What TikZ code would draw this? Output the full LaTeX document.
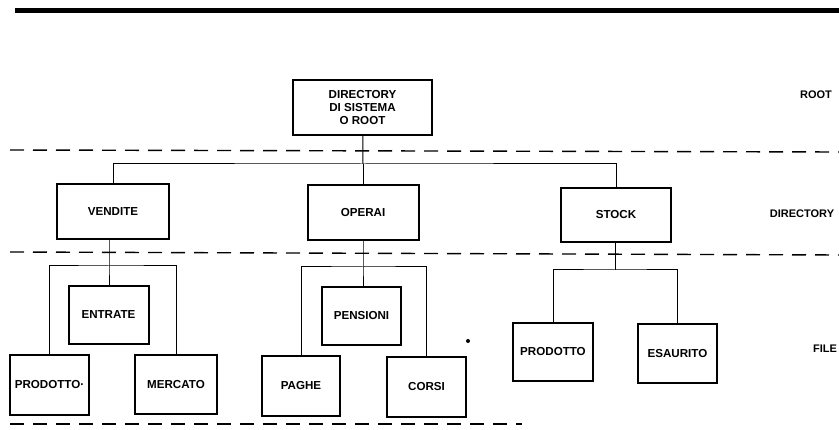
\documentclass[tikz,border=0pt]{standalone}
\usepackage{fontspec}
\setmainfont{Liberation Sans}
\usetikzlibrary{calc}

\tikzset{
  box/.style={draw,line width=2pt,inner sep=0pt,align=center,
    font=\fontsize{11.6}{13}\selectfont\bfseries},
  dirbox/.style={box,minimum width=111pt,minimum height=55pt},
  filebox/.style={box,minimum width=79pt,minimum height=59pt},
  conn/.style={line width=1pt},
  sep/.style={line width=1.4pt,dash pattern=on 14pt off 9pt},
  level/.style={font=\fontsize{11}{13}\selectfont\bfseries}
}

\begin{document}
\begin{tikzpicture}[x=1pt,y=-1pt]
\useasboundingbox (0,0) rectangle (839,430);
\fill (15,8) rectangle (839,13);
% livelli
\coordinate (s1l) at (10,150);  \coordinate (s1r) at (839,152);
\coordinate (s2l) at (10,252);  \coordinate (s2r) at (839,255);
\coordinate (s3l) at (10,424);  \coordinate (s3r) at (522,424);
\draw[sep] (s1l) -- (s1r);
\draw[sep] (s2l) -- (s2r);
\draw[sep] (s3l) -- (s3r);
\node[level] (lroot) at (816,95) {ROOT};
\node[level] (ldir) at (802,214) {DIRECTORY};
\node[level] (lfile) at (825,349) {FILE};
% root
\node[box,minimum width=139pt,minimum height=55pt] (root) at (362.5,107.5) {DIRECTORY\\DI SISTEMA\\O ROOT};
% directory
\node[dirbox,minimum width=112pt] (vendite) at (113,211.5) {VENDITE};
\node[dirbox] (operai) at (363,212.5) {OPERAI};
\node[dirbox,minimum width=110pt,minimum height=54pt] (stock) at (616,215) {STOCK};
% file
\node[filebox,minimum width=80pt,minimum height=58pt] (entrate) at (108.5,315) {ENTRATE};
\node[filebox,minimum height=60pt] (prodA) at (49.5,385) {PRODOTTO·};
\node[filebox,minimum width=82pt] (mercato) at (176,384.5) {MERCATO};
\node[filebox,minimum width=78pt,minimum height=60pt] (paghe) at (301,386) {PAGHE};
\node[filebox,minimum height=58pt] (pensioni) at (361.5,316) {PENSIONI};
\node[filebox,minimum height=60pt] (corsi) at (426.5,387) {CORSI};
\node[filebox,minimum width=80pt,minimum height=58pt] (prodB) at (553,352) {PRODOTTO};
\node[filebox] (esaurito) at (677.5,353.5) {ESAURITO};
% collegamenti
\coordinate (b0) at (363,164);
\coordinate (bv) at (109,266);
\coordinate (bo) at (363,267);
\coordinate (bs) at (615,270);
\draw[conn] (root) -- (b0);
\draw[conn] (vendite) |- (b0) -| (stock);
\draw[conn] (b0) -- (operai);
\draw[conn] (vendite.south -| bv) -- (bv) -- (entrate.north -| bv);
\draw[conn] (prodA) |- (bv) -| (mercato);
\draw[conn] (operai) -- (bo) -- (pensioni.north -| bo);
\draw[conn] (paghe) |- (bo) -| (corsi);
\draw[conn] (stock.south -| bs) -- (bs);
\draw[conn] (prodB) |- (bs) -| (esaurito);
\fill (468,341) circle (2);
\end{tikzpicture}
\end{document}
